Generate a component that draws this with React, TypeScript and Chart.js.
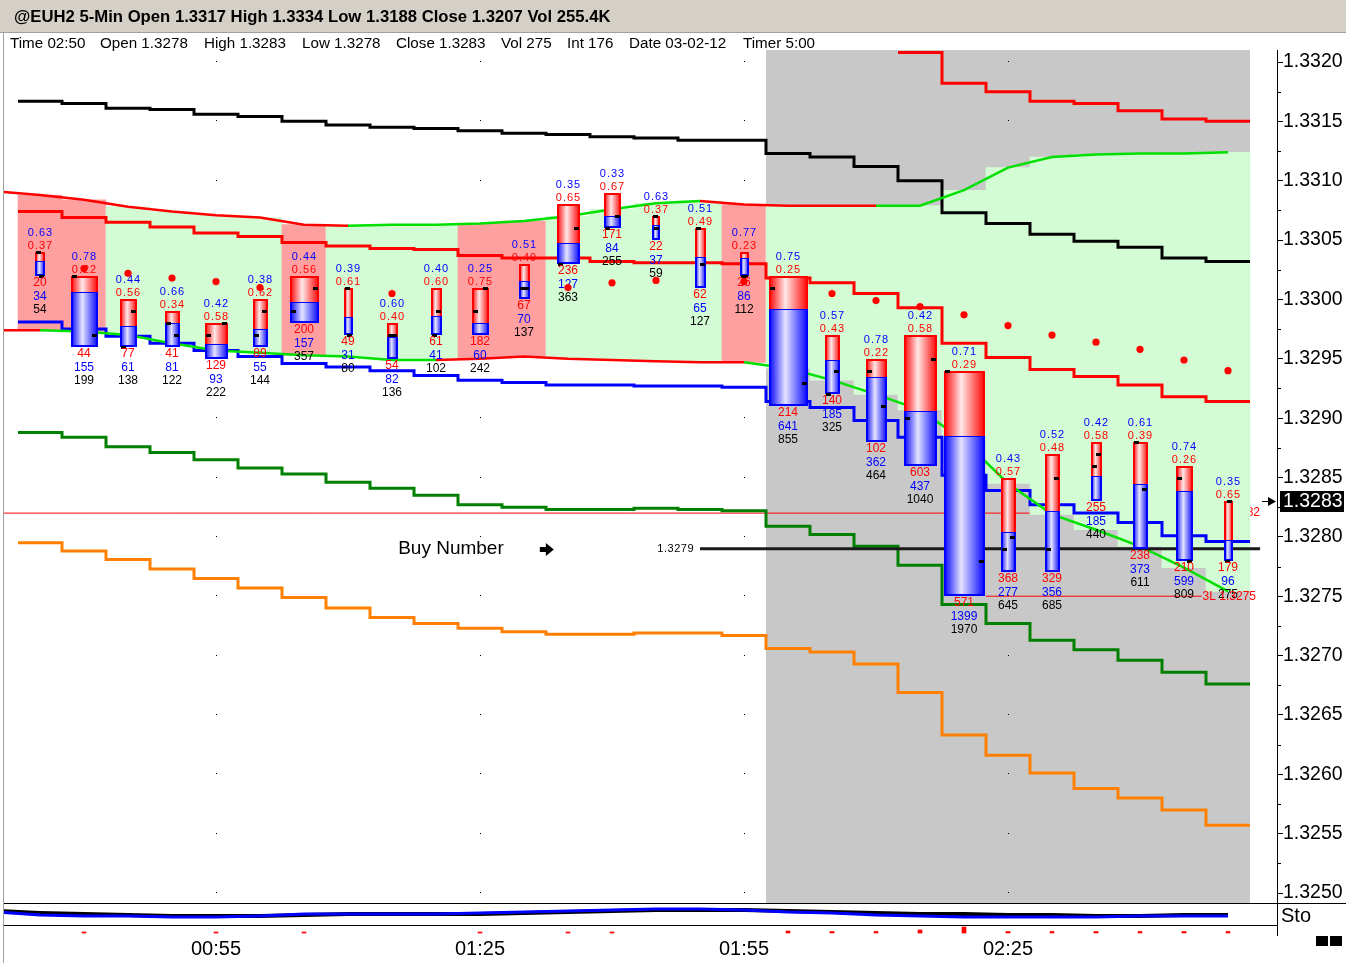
import React, { useEffect, useRef } from 'react';
import { Chart, registerables } from 'chart.js';
Chart.register(...registerables);

const FONT = '"Liberation Sans", Arial, sans-serif';

// ---------- texts ----------
const titleText = '@EUH2 5-Min Open 1.3317 High 1.3334 Low 1.3188 Close 1.3207 Vol 255.4K';
const infoLabels = ['Time 02:50', 'Open 1.3278', 'High 1.3283', 'Low 1.3278', 'Close 1.3283', 'Vol 275', 'Int 176', 'Date 03-02-12', 'Timer 5:00'];
const infoLeft = [10, 100, 204, 302, 396, 501, 567, 629, 743];

// ---------- categories ----------
const barTimes = ['00:35', '00:40', '00:45', '00:50', '00:55', '01:00', '01:05', '01:10', '01:15', '01:20', '01:25', '01:30', '01:35', '01:40', '01:45', '01:50', '01:55', '02:00', '02:05', '02:10', '02:15', '02:20', '02:25', '02:30', '02:35', '02:40', '02:45', '02:50'];
const axisTimeLabels = ['00:55', '01:25', '01:55', '02:25'];
const priceTickStep = 0.0005;
const priceMinorStep = 0.00025;

// ---------- candles ----------
const openP = [1.3304, 1.3302, 1.3296, 1.3298, 1.3297, 1.3297, 1.3299, 1.3301, 1.3297, 1.3297, 1.3299, 1.3301, 1.3303, 1.3306, 1.3307, 1.3306, 1.3302, 1.3301, 1.3292, 1.3294, 1.3290, 1.3294, 1.3279, 1.3279, 1.3286, 1.3288, 1.3285, 1.3278];
const highP = [1.3304, 1.3302, 1.3300, 1.3299, 1.3298, 1.3300, 1.3302, 1.3301, 1.3298, 1.3301, 1.3301, 1.3303, 1.3308, 1.3309, 1.3307, 1.3306, 1.3304, 1.3302, 1.3297, 1.3295, 1.3297, 1.3294, 1.3285, 1.3287, 1.3288, 1.3288, 1.3286, 1.3283];
const lowP = [1.3302, 1.3296, 1.3296, 1.3296, 1.3295, 1.3296, 1.3298, 1.3297, 1.3295, 1.3297, 1.3297, 1.3300, 1.3303, 1.3306, 1.3305, 1.3301, 1.3302, 1.3291, 1.3292, 1.3288, 1.3286, 1.3275, 1.3277, 1.3277, 1.3283, 1.3279, 1.3278, 1.3278];
const closeP = [1.3302, 1.3297, 1.3299, 1.3297, 1.3298, 1.3299, 1.3301, 1.3297, 1.3297, 1.3299, 1.3301, 1.3301, 1.3306, 1.3307, 1.3306, 1.3303, 1.3302, 1.3293, 1.3294, 1.3291, 1.3295, 1.3278, 1.3280, 1.3285, 1.3287, 1.3284, 1.3278, 1.3283];
const sellVol = [20, 44, 77, 41, 129, 89, 200, 49, 54, 61, 182, 67, 236, 171, 22, 62, 26, 214, 140, 102, 603, 571, 368, 329, 255, 238, 210, 179];
const buyVol = [34, 155, 61, 81, 93, 55, 157, 31, 82, 41, 60, 70, 127, 84, 37, 65, 86, 641, 185, 362, 437, 1399, 277, 356, 185, 373, 599, 96];

// ---------- SAR dots ----------
const sarDots = [null, 1.33026, 1.33022, 1.33018, 1.33015, 1.33010, null, null, 1.33005, null, null, null, 1.33010, 1.33014, 1.33016, null, 1.33015, null, 1.33005, 1.32999, 1.32994, 1.32987, 1.32978, 1.32970, 1.32964, 1.32958, 1.32949, 1.32940];

// ---------- band lines (first value is the bar before 00:35) ----------
const upperBand = [1.33091, 1.33088, 1.33084, 1.33078, 1.33074, 1.33071, 1.33069, 1.33063, 1.33062, 1.33063, 1.33063, 1.33064, 1.33066, 1.33070, 1.33076, 1.33081, 1.33083, 1.33080, 1.33079, 1.33079, 1.33079, 1.33079, 1.33092, 1.33111, 1.33120, 1.33122, 1.33123, 1.33123, 1.33124];
const lowerBand = [1.32974, 1.32974, 1.32973, 1.32970, 1.32963, 1.32957, 1.32955, 1.32953, 1.32952, 1.32949, 1.32949, 1.32950, 1.32952, 1.32950, 1.32949, 1.32948, 1.32947, 1.32947, 1.32942, 1.32932, 1.32920, 1.32907, 1.32881, 1.32845, 1.32819, 1.32806, 1.32792, 1.32774, 1.32754];
const upperTrend = [-1, -1, -1, -1, -1, -1, -1, -1, 1, 1, 1, 1, 1, 1, 1, 1, -1, -1, -1, -1, 1, 1, 1, 1, 1, 1, 1, 1];
const lowerTrend = [-1, 1, 1, 1, 1, 1, 1, 1, 1, 1, -1, -1, -1, -1, -1, -1, -1, 1, 1, 1, 1, 1, 1, 1, 1, 1, 1, 1];
const bandSide = ['sell', 'sell', 'buy', 'buy', 'buy', 'buy', 'sell', 'buy', 'buy', 'buy', 'sell', 'sell', 'buy', 'buy', 'buy', 'buy', 'sell', 'buy', 'buy', 'buy', 'buy', 'buy', 'buy', 'buy', 'buy', 'buy', 'buy', 'buy'];

// ---------- stepped levels ----------
const blackLevel = [1.33167, 1.33165, 1.33161, 1.33160, 1.33156, 1.33154, 1.33150, 1.33147, 1.33145, 1.33144, 1.33142, 1.33140, 1.33139, 1.33137, 1.33136, 1.33134, 1.33134, 1.33123, 1.33120, 1.33112, 1.33100, 1.33073, 1.33064, 1.33055, 1.33049, 1.33044, 1.33035, 1.33032];
const redTopLevel = [null, null, null, null, null, null, null, null, null, null, null, null, null, null, null, null, null, null, null, null, 1.33208, 1.33182, 1.33175, 1.33167, 1.33165, 1.33159, 1.33152, 1.33150];
const redMidLevel = [1.33074, 1.33069, 1.33065, 1.33061, 1.33056, 1.33053, 1.33048, 1.33045, 1.33043, 1.33042, 1.33037, 1.33035, 1.33035, 1.33032, 1.33031, 1.33031, 1.33030, 1.33018, 1.33014, 1.33005, 1.32993, 1.32963, 1.32951, 1.32941, 1.32935, 1.32928, 1.32918, 1.32914];
const blueLevel = [1.32981, 1.32975, 1.32969, 1.32963, 1.32957, 1.32952, 1.32946, 1.32943, 1.32940, 1.32936, 1.32932, 1.32930, 1.32928, 1.32928, 1.32927, 1.32927, 1.32926, 1.32914, 1.32909, 1.32898, 1.32884, 1.32852, 1.32839, 1.32827, 1.32820, 1.32812, 1.32801, 1.32796];
const darkGreenLevel = [1.32888, 1.32884, 1.32876, 1.32871, 1.32865, 1.32858, 1.32853, 1.32846, 1.32841, 1.32835, 1.32827, 1.32825, 1.32823, 1.32823, 1.32824, 1.32823, 1.32822, 1.32809, 1.32802, 1.32792, 1.32776, 1.32743, 1.32727, 1.32713, 1.32705, 1.32696, 1.32686, 1.32676];
const orangeLevel = [1.32795, 1.32788, 1.32781, 1.32773, 1.32765, 1.32757, 1.32749, 1.32740, 1.32732, 1.32727, 1.32723, 1.32720, 1.32718, 1.32718, 1.32719, 1.32719, 1.32717, 1.32706, 1.32703, 1.32693, 1.32669, 1.32633, 1.32616, 1.32601, 1.32588, 1.32580, 1.32570, 1.32557];

// ---------- horizontal levels ----------
const level1282 = 1.3282;
const buyNumber = 1.3279;
const level3L = 1.3275;
const lastPrice = 1.3283;
const buyLineSpan = [15, 27.73];
const level3LSpan = [21.5, 26.4];
const sessionSpan = [16.5, 27.5];

// ---------- Sto panel (first value is the bar before 00:35) ----------
const stoK = [64, 55, 50, 45, 41, 41, 41, 45, 50, 50, 50, 50, 55, 59, 64, 68, 68, 68, 64, 59, 55, 50, 50, 45, 45, 41, 41, 45, 45];
const stoD = [59, 45, 41, 41, 36, 36, 41, 50, 50, 50, 50, 55, 59, 64, 68, 73, 73, 68, 59, 55, 45, 41, 36, 36, 36, 36, 41, 41, 41];
const histVals = [0, 1, 0, 0, 1, 0, 1, 0, 0, 0, 1, 0, 1, 1, 0, 0, 0, 2, 1.5, 1.5, 3, 6, 1.5, 1.5, 1.5, 1.5, 1.5, 1.5];

// ---------- styles ----------
const candleWidth = [10, 27, 17, 15, 23, 15, 29, 9, 11, 11, 17, 11, 23, 17, 8, 11, 9, 39, 15, 21, 33, 41, 15, 15, 11, 15, 17, 9];
const RED = '#ff0000';
const BLUE = '#0000ff';
const GREEN = '#00e000';
const PINK = 'rgb(255,160,160)';
const MINT = 'rgb(212,252,212)';
const GRAY = 'rgb(200,200,200)';

const stepPts = (vals: any[]) => [
  ...vals.map((v, i) => ({ x: i - 0.5, y: v })),
  { x: vals.length - 0.5, y: vals[vals.length - 1] },
];
const prePts = (vals: any[]) => vals.map((v, i) => ({ x: i - 1, y: v }));

function drawCandles(chart: any) {
  const { ctx } = chart;
  const xs = chart.scales.x;
  const ys = chart.scales.y;
  ctx.save();
  for (let i = 0; i < barTimes.length; i++) {
    const cx = xs.getPixelForValue(i);
    const w = candleWidth[i];
    const l = Math.round(cx - w / 2);
    const r = l + w;
    const yH = Math.round(ys.getPixelForValue(highP[i]));
    const yL = Math.round(ys.getPixelForValue(lowP[i]));
    const tot = sellVol[i] + buyVol[i];
    const yS = Math.round(yH + ((yL - yH) * sellVol[i]) / tot);
    const gR = ctx.createLinearGradient(l, 0, r, 0);
    gR.addColorStop(0, '#ff0000');
    gR.addColorStop(0.42, '#ffe8e8');
    gR.addColorStop(1, '#ff0000');
    ctx.fillStyle = gR;
    ctx.fillRect(l, yH, w, yS - yH);
    const gB = ctx.createLinearGradient(l, 0, r, 0);
    gB.addColorStop(0, '#0000ff');
    gB.addColorStop(0.42, '#e4e4ff');
    gB.addColorStop(1, '#0000ff');
    ctx.fillStyle = gB;
    ctx.fillRect(l, yS, w, yL - yS);
    ctx.fillStyle = RED;
    ctx.fillRect(l, yH, w, 2);
    ctx.fillRect(l, yH, 2, yS - yH);
    ctx.fillRect(r - 2, yH, 2, yS - yH);
    ctx.fillStyle = BLUE;
    ctx.fillRect(l, yL - 2, w, 2);
    ctx.fillRect(l, yS, 2, yL - yS);
    ctx.fillRect(r - 2, yS, 2, yL - yS);
    ctx.fillRect(l, yS, w, 1);
    ctx.fillStyle = '#000';
    const yO = Math.round(ys.getPixelForValue(openP[i]));
    const yC = Math.round(ys.getPixelForValue(closeP[i]));
    ctx.fillRect(l + 1, yO - 1, 5, 3);
    ctx.fillRect(r - 6, yC - 1, 5, 3);

    ctx.textAlign = 'center';
    ctx.textBaseline = 'middle';
    ctx.font = `11px ${FONT}`;
    ctx.letterSpacing = '1px';
    ctx.fillStyle = BLUE;
    ctx.fillText((buyVol[i] / tot).toFixed(2), cx + 0.5, yH - 19);
    ctx.fillStyle = RED;
    ctx.fillText((sellVol[i] / tot).toFixed(2), cx + 0.5, yH - 6);
    ctx.letterSpacing = '0px';
    ctx.font = `12px ${FONT}`;
    ctx.fillStyle = RED;
    ctx.fillText(String(sellVol[i]), cx, yL + 7);
    ctx.fillStyle = BLUE;
    ctx.fillText(String(buyVol[i]), cx, yL + 21);
    ctx.fillStyle = '#000';
    ctx.fillText(String(tot), cx, yL + 34);
  }
  ctx.restore();
}

const overlayPlugin = {
  id: 'overlay',
  beforeDatasetsDraw(chart: any) {
    const { ctx } = chart;
    const xs = chart.scales.x;
    const ys = chart.scales.y;
    ctx.save();
    const gx0 = xs.getPixelForValue(sessionSpan[0]);
    const gx1 = xs.getPixelForValue(sessionSpan[1]);
    ctx.fillStyle = GRAY;
    ctx.fillRect(gx0, ys.top, gx1 - gx0, ys.bottom - ys.top);
    ctx.fillStyle = '#000';
    for (const t of axisTimeLabels) {
      const px = Math.round(xs.getPixelForValue(barTimes.indexOf(t)));
      for (const tk of ys.ticks) ctx.fillRect(px, Math.round(ys.getPixelForValue(tk.value)) - 1, 1, 1);
    }
    ctx.font = `12px ${FONT}`;
    ctx.fillStyle = RED;
    ctx.textAlign = 'right';
    ctx.textBaseline = 'middle';
    ctx.fillText(level1282.toFixed(4), gx1 + 10, ys.getPixelForValue(level1282));
    ctx.restore();
  },
  beforeDatasetDraw(chart: any, args: any) {
    if (chart.data.datasets[args.index].label === 'SAR') drawCandles(chart);
  },
  afterDatasetsDraw(chart: any) {
    const { ctx, chartArea, width } = chart;
    const xs = chart.scales.x;
    const ys = chart.scales.y;
    const ySto = chart.scales.ySto;
    ctx.save();
    // Buy Number annotation
    const yb = Math.round(ys.getPixelForValue(buyNumber));
    ctx.fillStyle = '#000';
    ctx.font = `19px ${FONT}`;
    ctx.textAlign = 'left';
    ctx.textBaseline = 'middle';
    ctx.fillText('Buy Number', xs.getPixelForValue(8.14), yb);
    const ax = xs.getPixelForValue(11.36);
    ctx.fillRect(ax, yb - 2, 8, 5);
    ctx.beginPath();
    ctx.moveTo(ax + 6, yb - 6);
    ctx.lineTo(ax + 14, yb + 0.5);
    ctx.lineTo(ax + 6, yb + 7);
    ctx.closePath();
    ctx.fill();
    ctx.font = `11px ${FONT}`;
    ctx.letterSpacing = '0.5px';
    ctx.textAlign = 'right';
    ctx.fillText(buyNumber.toFixed(4), xs.getPixelForValue(buyLineSpan[0]) - 6, yb);
    ctx.letterSpacing = '0px';
    // 3L label
    ctx.font = `12px ${FONT}`;
    ctx.fillStyle = RED;
    ctx.textAlign = 'left';
    ctx.fillText('3L ' + level3L.toFixed(4), xs.getPixelForValue(level3LSpan[1]) + 1, ys.getPixelForValue(level3L));
    // minor ticks
    ctx.fillStyle = '#000';
    const firstMinor = Math.ceil(ys.min / priceMinorStep);
    const lastMinor = Math.floor(ys.max / priceMinorStep);
    for (let k = firstMinor; k <= lastMinor; k++) {
      if (k % 2 === 0) continue;
      const py = Math.round(ys.getPixelForValue(k * priceMinorStep));
      ctx.fillRect(ys.left, py, 4, 1);
    }
    // last price box
    const yp = Math.round(ys.getPixelForValue(lastPrice));
    ctx.fillStyle = '#000';
    ctx.fillRect(ys.left + 3, yp - 10, 64, 21);
    ctx.fillStyle = '#fff';
    ctx.font = `19.5px ${FONT}`;
    ctx.textAlign = 'left';
    ctx.fillText(lastPrice.toFixed(4), ys.left + 6, yp + 1);
    ctx.fillStyle = '#000';
    ctx.fillRect(ys.left - 15, yp, 8, 1);
    ctx.beginPath();
    ctx.moveTo(ys.left - 9, yp - 4);
    ctx.lineTo(ys.left - 1, yp + 0.5);
    ctx.lineTo(ys.left - 9, yp + 5);
    ctx.closePath();
    ctx.fill();
    // Sto label
    ctx.font = `20px ${FONT}`;
    ctx.fillText('Sto', ySto.left + 4, (ySto.top + ySto.bottom) / 2 + 2);
    // separators
    ctx.fillRect(chartArea.left, Math.round(ys.bottom), width - chartArea.left, 1);
    ctx.fillRect(chartArea.left, Math.round(ySto.bottom), chartArea.right - chartArea.left, 1);
    // left frame line
    ctx.fillStyle = '#a0a0a0';
    ctx.fillRect(3, 32, 1, chart.height - 32);
    // bottom-right squares
    ctx.fillStyle = '#000';
    ctx.fillRect(width - 30, chart.height - 27, 12, 10);
    ctx.fillRect(width - 16, chart.height - 27, 12, 10);
    ctx.restore();
  },
};

function buildConfig(): any {
  const trendColor = (t: number) => (t > 0 ? GREEN : RED);
  const stepped = (label: string, vals: any[], color: string, width = 3) => ({
    type: 'line', label, data: stepPts(vals), borderColor: color, borderWidth: width,
    stepped: true, pointRadius: 0, fill: false, order: 60, yAxisID: 'y',
  });
  return {
    type: 'line',
    data: {
      datasets: [
        {
          type: 'line', label: 'L1282', data: [{ x: -1, y: level1282 }, { x: sessionSpan[1], y: level1282 }],
          borderColor: RED, borderWidth: 1, pointRadius: 0, order: 110, yAxisID: 'y',
        },
        {
          type: 'bar', label: 'band', yAxisID: 'y', order: 100, grouped: false,
          data: barTimes.map((_, i) => ({ x: i, y: [lowerBand[i + 1], upperBand[i + 1]] })),
          backgroundColor: bandSide.map((s) => (s === 'sell' ? PINK : MINT)),
          barPercentage: 1, categoryPercentage: 1, borderWidth: 0,
        },
        stepped('black', blackLevel, '#000000'),
        stepped('redTop', redTopLevel, RED),
        stepped('redMid', redMidLevel, RED),
        stepped('blue', blueLevel, BLUE),
        stepped('darkGreen', darkGreenLevel, '#008000'),
        stepped('orange', orangeLevel, '#ff8000'),
        {
          type: 'line', label: 'upper', data: prePts(upperBand), borderWidth: 2.5, pointRadius: 0, order: 55, yAxisID: 'y',
          borderColor: RED, segment: { borderColor: (c: any) => trendColor(upperTrend[c.p0DataIndex]) },
        },
        {
          type: 'line', label: 'lower', data: prePts(lowerBand), borderWidth: 2.5, pointRadius: 0, order: 55, yAxisID: 'y',
          borderColor: RED, segment: { borderColor: (c: any) => trendColor(lowerTrend[c.p0DataIndex]) },
        },
        {
          type: 'line', label: 'buyNumber', data: buyLineSpan.map((x) => ({ x, y: buyNumber })),
          borderColor: '#1a1a1a', borderWidth: 3, pointRadius: 0, order: 50, yAxisID: 'y',
        },
        {
          type: 'line', label: '3L', data: level3LSpan.map((x) => ({ x, y: level3L })),
          borderColor: RED, borderWidth: 1, pointRadius: 0, order: 50, yAxisID: 'y',
        },
        {
          type: 'line', label: 'SAR', data: sarDots.map((v, i) => ({ x: i, y: v })), showLine: false,
          pointRadius: 3.6, pointBackgroundColor: RED, pointBorderWidth: 0, order: 1, yAxisID: 'y',
        },
        {
          type: 'line', label: 'stoK', data: prePts(stoK), borderColor: '#000', borderWidth: 4,
          pointRadius: 0, order: 6, yAxisID: 'ySto',
        },
        {
          type: 'line', label: 'stoD', data: prePts(stoD), borderColor: BLUE, borderWidth: 3,
          pointRadius: 0, order: 5, yAxisID: 'ySto',
        },
        {
          type: 'bar', label: 'hist', yAxisID: 'yHist', order: 5, grouped: false, barThickness: 4,
          data: histVals.map((v, i) => ({ x: i, y: v > 0 ? [2, 2 + v] : null })),
          backgroundColor: RED, borderWidth: 0,
        },
      ],
    },
    options: {
      animation: false,
      responsive: false,
      devicePixelRatio: 1,
      events: [],
      layout: { padding: { top: 50, left: 4, right: 0, bottom: 0 } },
      plugins: { legend: { display: false }, tooltip: { enabled: false }, title: { display: false } },
      scales: {
        x: {
          type: 'linear', min: -0.818182, max: 28.113636, offset: false,
          grid: { display: false, drawTicks: false }, border: { display: false },
          afterBuildTicks: (s: any) => { s.ticks = axisTimeLabels.map((t) => ({ value: barTimes.indexOf(t) })); },
          ticks: {
            autoSkip: false, maxRotation: 0, padding: 2, color: '#000', font: { size: 20, family: FONT },
            callback: (v: any) => barTimes[v] ?? '',
          },
          afterFit: (s: any) => { s.height = 28; },
        },
        y: {
          type: 'linear', position: 'right', stack: 'panes', stackWeight: 853,
          min: 1.3249158, max: 1.3321011,
          grid: { drawOnChartArea: false, drawTicks: true, tickLength: 6, tickColor: '#000' },
          border: { display: true, color: '#000' },
          ticks: {
            stepSize: priceTickStep, includeBounds: false, maxTicksLimit: 100, autoSkip: false, padding: 0,
            color: '#000', font: { size: 19.5, family: FONT }, callback: (v: any) => Number(v).toFixed(4),
          },
          afterFit: (s: any) => { s.width = 69; },
        },
        ySto: {
          type: 'linear', position: 'right', stack: 'panes', stackWeight: 22, min: 0, max: 100,
          grid: { display: false, drawTicks: false }, ticks: { display: false },
          border: { display: true, color: '#000' },
          afterFit: (s: any) => { s.width = 69; },
        },
        yHist: {
          type: 'linear', position: 'right', stack: 'panes', stackWeight: 10, min: 0, max: 10,
          grid: { display: false, drawTicks: false }, ticks: { display: false },
          border: { display: true, color: '#000' },
          afterFit: (s: any) => { s.width = 69; },
        },
      },
    },
    plugins: [overlayPlugin],
  };
}

export default function App() {
  const ref = useRef<HTMLCanvasElement>(null);
  useEffect(() => {
    document.body.style.margin = '0';
    const chart = new Chart(ref.current as HTMLCanvasElement, buildConfig());
    return () => chart.destroy();
  }, []);
  return (
    <div style={{ position: 'relative', width: 1346, height: 963, background: '#fff', overflow: 'hidden', fontFamily: FONT }}>
      <canvas ref={ref} width={1346} height={963} style={{ position: 'absolute', left: 0, top: 0, display: 'block' }} />
      <div style={{ position: 'absolute', left: 0, top: 0, width: 1346, height: 32, background: '#d4d0c8', borderBottom: '1px solid #a0a0a0' }}>
        <span style={{ position: 'absolute', left: 14, top: 0, lineHeight: '34px', fontWeight: 'bold', fontSize: 16.7, color: '#000', whiteSpace: 'nowrap' }}>{titleText}</span>
      </div>
      {infoLabels.map((t, i) => (
        <span key={t} style={{ position: 'absolute', left: infoLeft[i], top: 34, fontSize: 15.2, lineHeight: '18px', color: '#000', whiteSpace: 'nowrap' }}>{t}</span>
      ))}
    </div>
  );
}
